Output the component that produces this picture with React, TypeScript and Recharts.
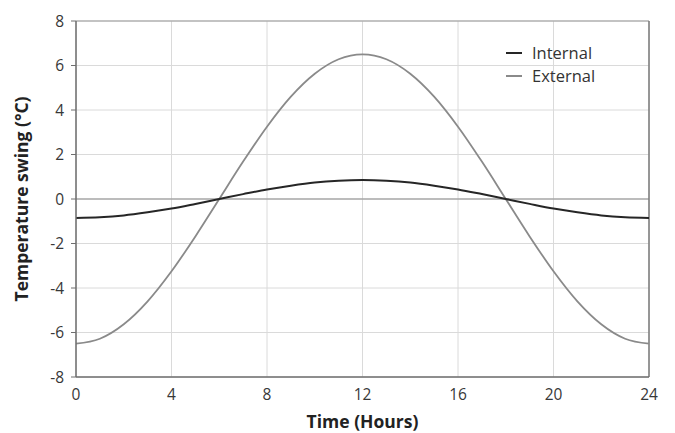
import React from 'react';
import {
  LineChart,
  Line,
  XAxis,
  YAxis,
  CartesianGrid,
  ReferenceLine,
  Label,
} from 'recharts';

// hours 0..24, values
const hours = [0, 1, 2, 3, 4, 5, 6, 7, 8, 9, 10, 11, 12, 13, 14, 15, 16, 17, 18, 19, 20, 21, 22, 23, 24];
const internal = [
  -0.85, -0.82, -0.74, -0.6, -0.43, -0.22, 0, 0.22, 0.43, 0.6, 0.74, 0.82, 0.85,
  0.82, 0.74, 0.6, 0.43, 0.22, 0, -0.22, -0.43, -0.6, -0.74, -0.82, -0.85,
];
const external = [
  -6.5, -6.28, -5.63, -4.6, -3.25, -1.68, 0, 1.68, 3.25, 4.6, 5.63, 6.28, 6.5,
  6.28, 5.63, 4.6, 3.25, 1.68, 0, -1.68, -3.25, -4.6, -5.63, -6.28, -6.5,
];
const xTicks = [0, 4, 8, 12, 16, 20, 24];
const yTicks = [-8, -6, -4, -2, 0, 2, 4, 6, 8];
const seriesNames = ['Internal', 'External'];

const data = hours.map((h, i) => ({ hour: h, internal: internal[i], external: external[i] }));

const FONT = '"Open Sans", "Noto Sans", sans-serif';
const INTERNAL_COLOR = '#262626';
const EXTERNAL_COLOR = '#8a8a8a';
const colors = [INTERNAL_COLOR, EXTERNAL_COLOR];

// legend sits over the plot, drawn as plain html so it takes no room from the chart
const LegendBox = () => (
  <div style={{ position: 'absolute', left: 506, top: 41, fontFamily: FONT, fontSize: 16.5, color: '#333' }}>
    {seriesNames.map((n, i) => (
      <div key={n} style={{ display: 'flex', alignItems: 'center', height: 23 }}>
        <span style={{ display: 'inline-block', width: 16, height: 2, background: colors[i], marginRight: 10 }} />
        {n}
      </div>
    ))}
  </div>
);

export default function App() {
  const tickStyle = { fontSize: 15.5, fill: '#383838', fontFamily: FONT };
  const titleStyle = { fontSize: 17.5, fontWeight: 700, fill: '#222', fontFamily: FONT };
  return (
    <div style={{ position: 'absolute', left: 0, top: 0, width: 675, height: 433, background: '#fff' }}>
      <LineChart width={675} height={433} data={data} margin={{ top: 21, right: 26, bottom: 0, left: 0 }}>
        <CartesianGrid stroke="#dadada" strokeWidth={1} />
        <XAxis
          dataKey="hour"
          type="number"
          domain={[0, 24]}
          ticks={xTicks}
          height={56}
          tickLine={false}
          tickSize={5}
          tickMargin={7}
          tick={tickStyle}
          axisLine={{ stroke: '#6e6e6e', strokeWidth: 1.5 }}
        >
          <Label value="Time (Hours)" position="insideBottom" offset={5} style={titleStyle} />
        </XAxis>
        <YAxis
          type="number"
          domain={[-8, 8]}
          ticks={yTicks}
          width={76}
          tickSize={5}
          tickMargin={7}
          tick={tickStyle}
          tickLine={{ stroke: '#6e6e6e' }}
          axisLine={{ stroke: '#6e6e6e', strokeWidth: 1.5 }}
        >
          <Label
            value="Temperature swing (°C)"
            angle={-90}
            position="insideLeft"
            offset={22}
            style={{ ...titleStyle, textAnchor: 'middle' }}
          />
        </YAxis>
        <ReferenceLine y={0} stroke="#8c8c8c" strokeWidth={1.2} />
        <ReferenceLine y={8} stroke="#9a9a9a" strokeWidth={1.2} />
        <ReferenceLine x={24} stroke="#7a7a7a" strokeWidth={1.5} />
        <Line
          type="monotone"
          dataKey="external"
          name="External"
          stroke={EXTERNAL_COLOR}
          strokeWidth={1.8}
          dot={false}
          isAnimationActive={false}
        />
        <Line
          type="monotone"
          dataKey="internal"
          name="Internal"
          stroke={INTERNAL_COLOR}
          strokeWidth={2}
          dot={false}
          isAnimationActive={false}
        />
      </LineChart>
      <LegendBox />
    </div>
  );
}
